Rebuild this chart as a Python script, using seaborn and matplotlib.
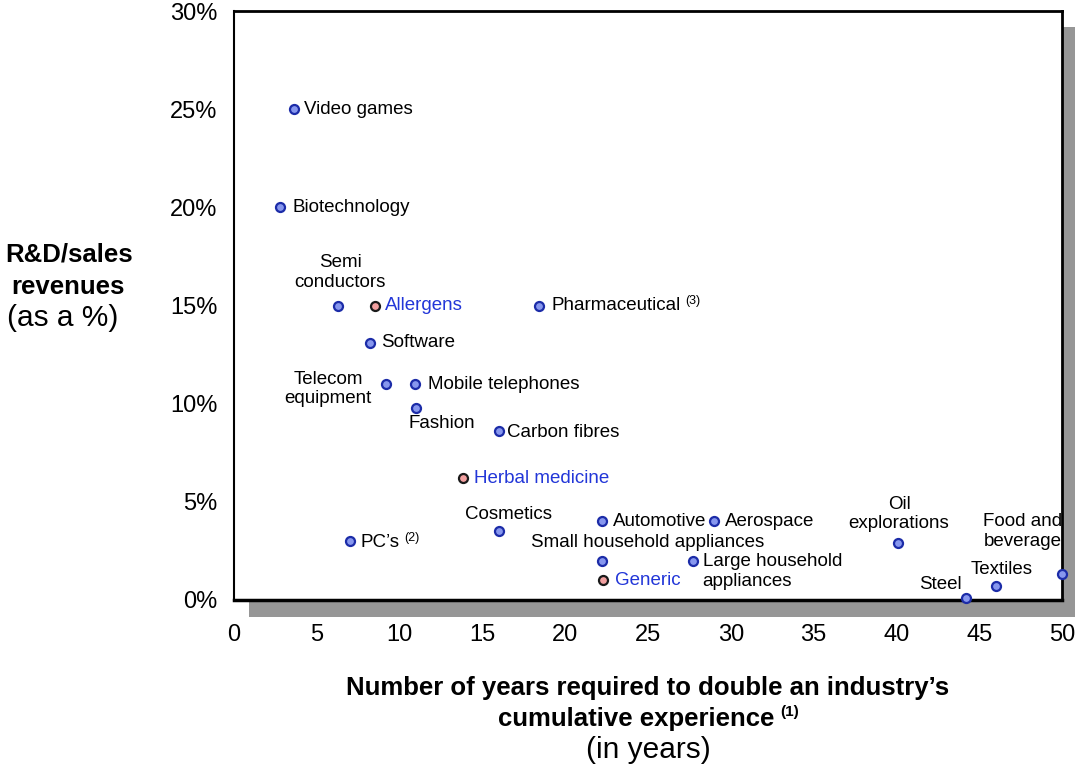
import matplotlib
matplotlib.use("Agg")
import matplotlib.pyplot as plt
from matplotlib.patches import Rectangle
from matplotlib.ticker import FuncFormatter
import seaborn as sns
import pandas as pd

# Industries: years to double cumulative experience vs. R&D share of sales
industries = [
    "Video games", "Biotechnology", "Semi\nconductors", "Allergens", "Pharmaceutical",
    "Software", "Telecom\nequipment", "Mobile telephones", "Fashion", "Carbon fibres",
    "Herbal medicine", "Cosmetics", "PC\u2019s", "Automotive", "Aerospace",
    "Small household appliances", "Large household\nappliances", "Generic",
    "Oil\nexplorations", "Food and\nbeverage", "Textiles", "Steel",
]
years = [3.6, 2.8, 6.3, 8.5, 18.4, 8.2, 9.2, 10.9, 11.0, 16.0,
         13.8, 16.0, 7.0, 22.2, 29.0, 22.2, 27.7, 22.3,
         40.1, 50.0, 46.0, 44.2]
rd_pct = [25.0, 20.0, 15.0, 15.0, 15.0, 13.1, 11.0, 11.0, 9.8, 8.6,
          6.2, 3.5, 3.0, 4.0, 4.0, 2.0, 2.0, 1.0,
          2.9, 1.3, 0.7, 0.1]
highlighted = ["Allergens", "Herbal medicine", "Generic"]
footnotes = {"Pharmaceutical": "(3)", "PC\u2019s": "(2)"}

x_ticks = [0, 5, 10, 15, 20, 25, 30, 35, 40, 45, 50]
y_ticks = [0, 5, 10, 15, 20, 25, 30]

df = pd.DataFrame({"industry": industries, "years": years, "rd": rd_pct})
df["group"] = ["focus" if n in highlighted else "industry" for n in industries]

# label placement: (dx px, dy px, horizontal alignment, line alignment)
layout = {
    "Video games": (10, 0, "left", "left"),
    "Biotechnology": (12, 0, "left", "left"),
    "Semi\nconductors": (2, 33, "center", "center"),
    "Allergens": (10, 0, "left", "left"),
    "Pharmaceutical": (13, 0, "left", "left"),
    "Software": (11, 0, "left", "left"),
    "Telecom\nequipment": (-58, -5, "center", "center"),
    "Mobile telephones": (13, 0, "left", "left"),
    "Fashion": (26, -16, "center", "center"),
    "Carbon fibres": (8, -1, "left", "left"),
    "Herbal medicine": (11, 0, "left", "left"),
    "Cosmetics": (10, 17, "center", "center"),
    "PC\u2019s": (11, -1, "left", "left"),
    "Automotive": (11, 0, "left", "left"),
    "Aerospace": (11, 0, "left", "left"),
    "Small household appliances": (46, 18, "center", "center"),
    "Large household\nappliances": (10, -11, "left", "left"),
    "Generic": (12, 0, "left", "left"),
    "Oil\nexplorations": (1, 29, "center", "center"),
    "Food and\nbeverage": (-39, 43, "center", "center"),
    "Textiles": (6, 17, "center", "center"),
    "Steel": (-26, 14, "center", "center"),
}

sns.set_theme(style="white")
plt.rcParams["font.family"] = ["Liberation Sans", "DejaVu Sans"]
plt.rcParams["text.color"] = "black"

W, H = 1075, 767
fig = plt.figure(figsize=(W / 100, H / 100), dpi=100)
ax = fig.add_axes([234 / W, 1 - 600 / H, (1062 - 234) / W, (600 - 11) / H])
ax.set_facecolor("white")
ax.set_zorder(2)

# drop shadow behind the plotting area
fig.patches.append(Rectangle((249 / W, 1 - 617 / H), 1.0, (617 - 27) / H,
                             transform=fig.transFigure, facecolor="#969696",
                             edgecolor="none", zorder=-1))

palette = {"industry": "#8797ee", "focus": "#f2a0a0"}
edges = {"industry": "#1c2ca8", "focus": "#1a1a1a"}
for grp in ["industry", "focus"]:
    sub = df[df["group"] == grp]
    sns.scatterplot(data=sub, x="years", y="rd", ax=ax, color=palette[grp],
                    edgecolor=edges[grp], linewidth=1.6, s=42, zorder=5,
                    clip_on=False, legend=False)

label_size = 13.5
blue_text = "#2236d8"
for _, row in df.iterrows():
    dx, dy, ha, ma = layout[row["industry"]]
    color = blue_text if row["group"] == "focus" else "black"
    t = ax.annotate(row["industry"], (row["years"], row["rd"]),
                    xytext=(dx, dy), textcoords="offset pixels",
                    ha=ha, va="center", multialignment=ma,
                    fontsize=label_size, color=color, zorder=6,
                    annotation_clip=False)
    t.set_clip_on(False)
    if row["industry"] in footnotes:
        ax.annotate(footnotes[row["industry"]], xy=(1, 0.75), xycoords=t,
                    xytext=(4, 0), textcoords="offset pixels",
                    ha="left", va="center", fontsize=9, color="black")

ax.set_xlim(0, 50)
ax.set_ylim(0, 30)
ax.set_xticks(x_ticks)
ax.set_yticks(y_ticks)
ax.yaxis.set_major_formatter(FuncFormatter(lambda v, p: f"{v:.0f}%"))
ax.tick_params(axis="both", direction="inout", length=10, width=1.2,
               colors="black", labelsize=17)
ax.tick_params(axis="x", pad=12)
ax.tick_params(axis="y", pad=7)
ax.set_xlabel("")
ax.set_ylabel("")
for side in ["left", "bottom"]:
    ax.spines[side].set_color("black")
    ax.spines[side].set_linewidth(1.5)
for side in ["top", "right"]:
    ax.spines[side].set_color("black")
    ax.spines[side].set_linewidth(2)
ax.spines["bottom"].set_linewidth(2.5)

bold_size = 18.5
plain_size = 21.5
# y-axis title
fig.text(69 / W, 1 - 255 / H, "R&D/sales", ha="center", va="center",
         fontsize=bold_size, fontweight="bold")
fig.text(68 / W, 1 - 287 / H, "revenues", ha="center", va="center",
         fontsize=bold_size, fontweight="bold")
fig.text(63 / W, 1 - 318 / H, "(as a %)", ha="center", va="center",
         fontsize=plain_size)

# x-axis title
fig.text(648 / W, 1 - 688 / H, "Number of years required to double an industry\u2019s",
         ha="center", va="center", fontsize=bold_size, fontweight="bold")
xt = fig.text(636 / W, 1 - 719 / H, "cumulative experience",
              ha="center", va="center", fontsize=bold_size, fontweight="bold")
ax.annotate("(1)", xy=(1, 0.8), xycoords=xt, xytext=(6, 0),
            textcoords="offset pixels", ha="left", va="center",
            fontsize=11, fontweight="bold", annotation_clip=False)
fig.text(648 / W, 1 - 750 / H, "(in years)", ha="center", va="center",
         fontsize=plain_size)

fig.savefig("out.png", dpi=100, facecolor="white")
